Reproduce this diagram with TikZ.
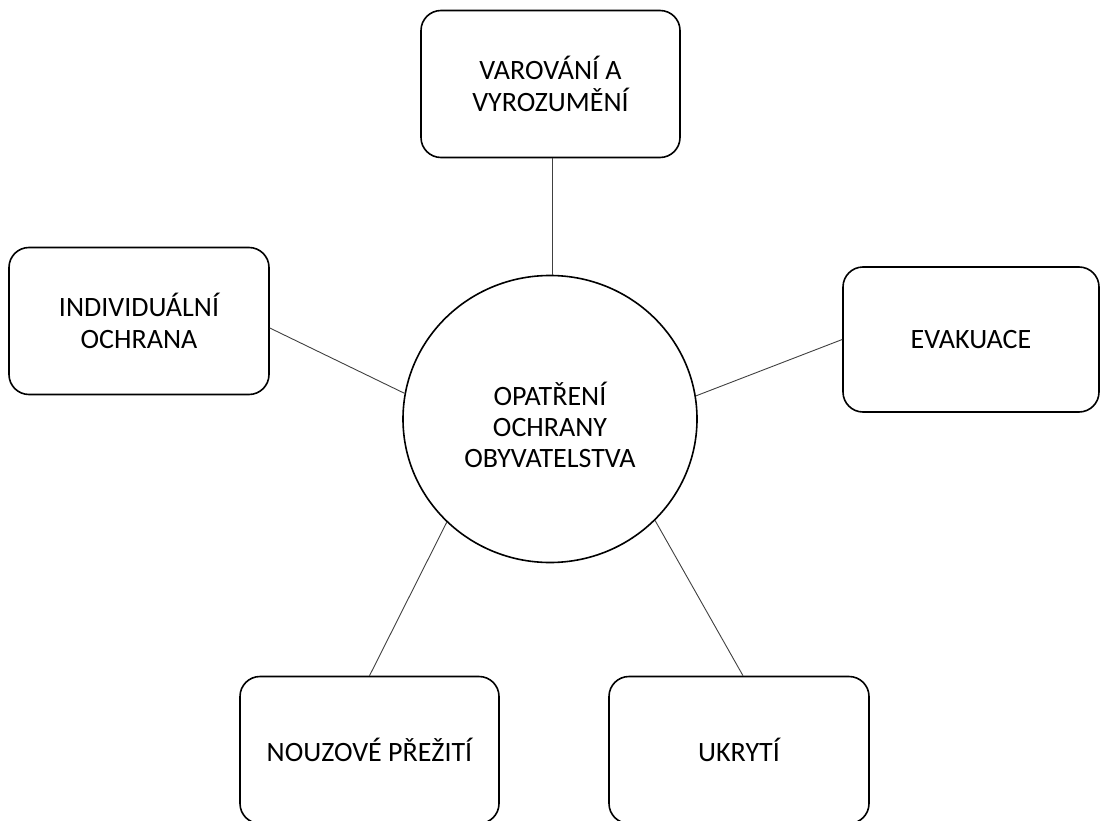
\documentclass[tikz,border=0pt]{standalone}
\usepackage{fontspec}
\setmainfont{Carlito}
\usetikzlibrary{shapes.geometric}
\begin{document}
\begin{tikzpicture}[x=1pt,y=-1pt,
  box/.style={draw=black, line width=1.6pt, rounded corners=20pt, minimum width=259pt, minimum height=147pt, align=center, font=\fontsize{28}{32}\selectfont, inner sep=0pt},
  hub/.style={draw=black, line width=1.6pt, ellipse, minimum width=294pt, minimum height=287pt, inner sep=0pt},
  hubtext/.style={align=center, font=\fontsize{28}{31}\selectfont, inner sep=0pt},
  link/.style={draw=black!75, line width=0.9pt}]
\useasboundingbox (0,0) rectangle (1100,821);
\node[hub] (c) at (550,419) {};
\node[hubtext] (ct) at (550,425) {OPATŘENÍ\\OCHRANY\\OBYVATELSTVA};
\node[box] (t) at (550.5,84) {VAROVÁNÍ A\\VYROZUMĚNÍ};
\node[box, minimum width=260pt] (l) at (139,321) {INDIVIDUÁLNÍ\\OCHRANA};
\node[box, minimum width=256pt, minimum height=145pt] (r) at (971,339.5) {EVAKUACE};
\node[box] (bl) at (369.5,750) {NOUZOVÉ PŘEŽITÍ};
\node[box, minimum width=260pt] (br) at (739,750) {UKRYTÍ};
\draw[link] ([xshift=1.5pt]t.south) -- ([xshift=1.5pt]t.south |- c.north);
\draw[link] ([yshift=-7pt]l.east) -- (c.170.7);
\draw[link] (r.west) -- (c.9.2);
\draw[link] (bl.north) -- (c.-135);
\draw[link] ([xshift=4pt]br.north) -- (c.-44.5);
\end{tikzpicture}
\end{document}
